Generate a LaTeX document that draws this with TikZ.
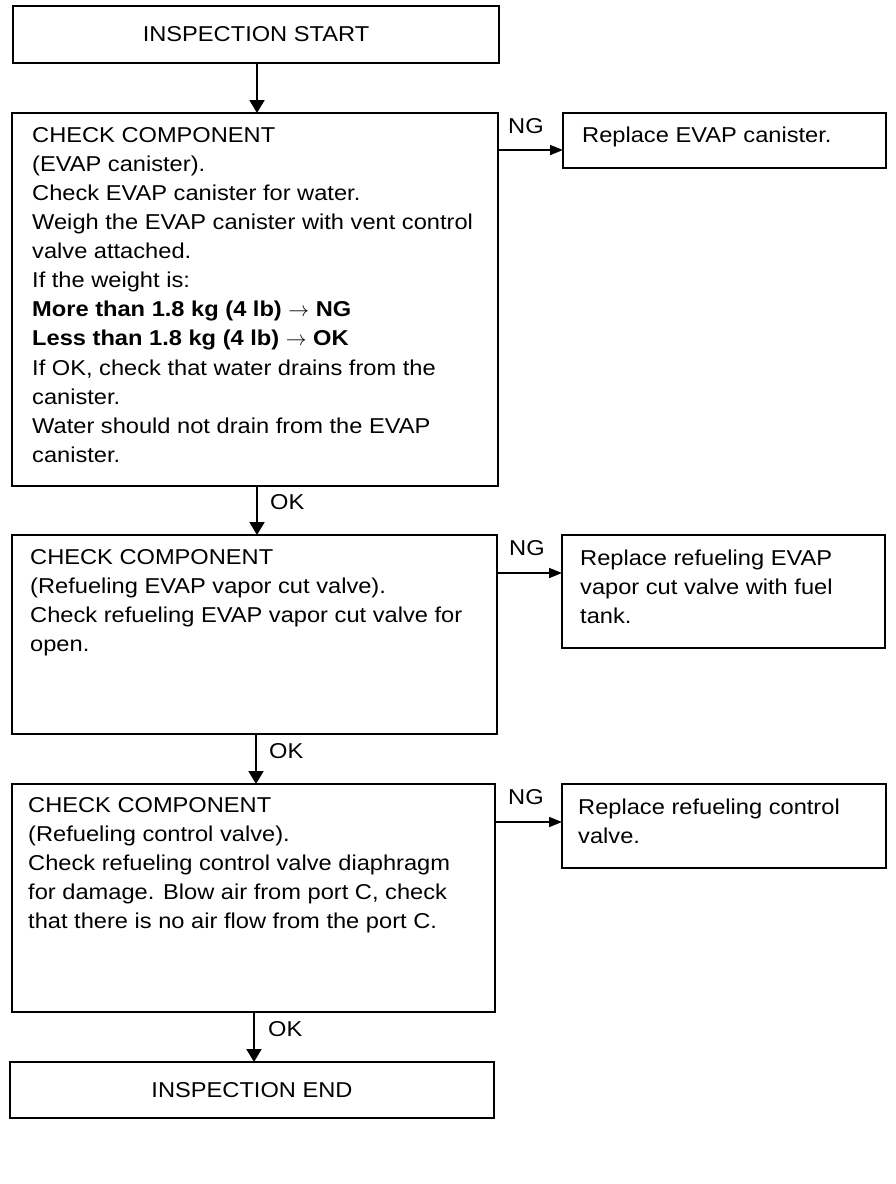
\documentclass[tikz,border=0pt]{standalone}
\usepackage{fontspec}
\setmainfont{Liberation Sans}[FakeStretch=1.1]
\usetikzlibrary{arrows.meta}
\tikzset{
  box/.style={draw, line width=2pt, rectangle, anchor=north west, inner sep=0pt, outer sep=0pt},
  txt/.style={anchor=north west, inner sep=0pt, align=left, font=\fontsize{21.5}{29.1}\selectfont},
  ctxt/.style={inner sep=0pt, font=\fontsize{21.5}{29.1}\selectfont},
  lbl/.style={anchor=north west, inner sep=0pt, font=\fontsize{21.5}{29.1}\selectfont},
  flow/.style={line width=2pt, -{Triangle[length=13pt,width=15pt]}},
  ngflow/.style={line width=1.8pt, -{Triangle[length=13pt,width=10pt]}}
}
\begin{document}
\begin{tikzpicture}[x=1pt,y=-1pt]
\useasboundingbox (0,0) rectangle (896,1184);
\fill[white] (0,0) rectangle (896,1184);

% main boxes
\node[box, minimum width=486, minimum height=57] (start) at (13,6) {};
\node[ctxt] (starttxt) at (start.center) {INSPECTION START};

\node[box, minimum width=486, minimum height=373] (b1) at (12,113) {};
\node[txt] (b1txt) at (32,127) {CHECK COMPONENT\\
(EVAP canister).\\
Check EVAP canister for water.\\
Weigh the EVAP canister with vent control\\
valve attached.\\
If the weight is:\\
\textbf{More than 1.8 kg (4 lb) $\rightarrow$ NG}\\
\textbf{Less than 1.8 kg (4 lb) $\rightarrow$ OK}\\
If OK, check that water drains from the\\
canister.\\
Water should not drain from the EVAP\\
canister.};

\node[box, minimum width=485, minimum height=199] (b2) at (12,535) {};
\node[txt] (b2txt) at (30,549) {CHECK COMPONENT\\
(Refueling EVAP vapor cut valve).\\
Check refueling EVAP vapor cut valve for\\
open.};

\node[box, minimum width=483, minimum height=228] (b3) at (12,784) {};
\node[txt] (b3txt) at (28,797) {CHECK COMPONENT\\
(Refueling control valve).\\
Check refueling control valve diaphragm\\
for damage. Blow air from port C, check\\
that there is no air flow from the port C.};

\node[box, minimum width=484, minimum height=56] (end) at (10,1062) {};
\node[ctxt] (endtxt) at (end.center) {INSPECTION END};

% right boxes
\node[box, minimum width=323, minimum height=55] (r1) at (563,113) {};
\node[txt] (r1txt) at (582,127) {Replace EVAP canister.};

\node[box, minimum width=323, minimum height=113] (r2) at (562,535) {};
\node[txt] (r2txt) at (580,550) {Replace refueling EVAP\\
vapor cut valve with fuel\\
tank.};

\node[box, minimum width=324, minimum height=84] (r3) at (562,784) {};
\node[txt] (r3txt) at (578,799) {Replace refueling control\\
valve.};

% vertical flow arrows
\draw[flow] (start.south -| 257,0) -- (b1.north -| 257,0);
\draw[flow] (b1.south -| 257,0) -- (b2.north -| 257,0);
\draw[flow] (b2.south -| 256,0) -- (b3.north -| 256,0);
\draw[flow] (b3.south -| 254,0) -- (end.north -| 254,0);

\node[lbl] (ok1) at (270,494) {OK};
\node[lbl] (ok2) at (269,743) {OK};
\node[lbl] (ok3) at (268,1021) {OK};

% NG arrows
\draw[ngflow] (b1.east |- 0,150) -- (r1.west |- 0,150);
\draw[ngflow] (b2.east |- 0,573) -- (r2.west |- 0,573);
\draw[ngflow] (b3.east |- 0,822) -- (r3.west |- 0,822);

\node[lbl] (ng1) at (508,118) {NG};
\node[lbl] (ng2) at (509,540) {NG};
\node[lbl] (ng3) at (508,789) {NG};
\end{tikzpicture}
\end{document}
